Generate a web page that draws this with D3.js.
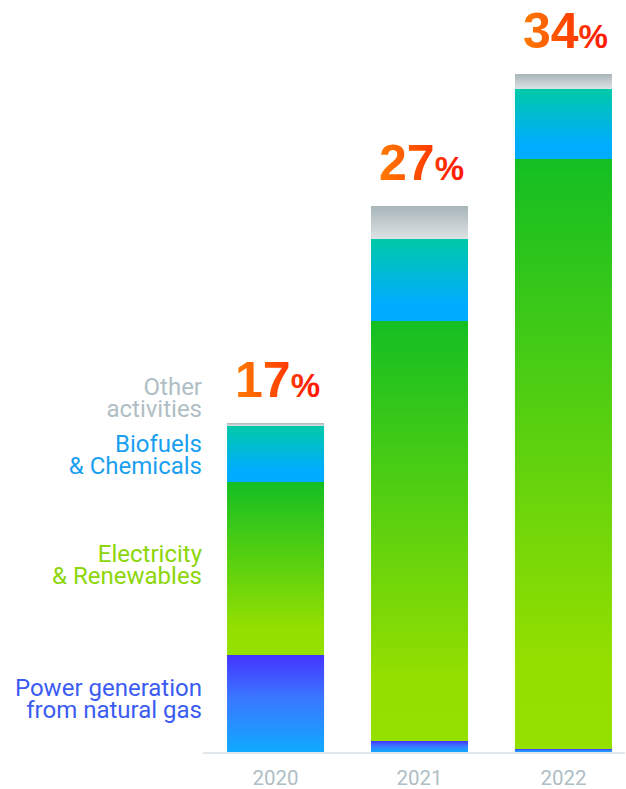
<!DOCTYPE html>
<html>
<head>
<meta charset="utf-8">
<script src="https://cdn.jsdelivr.net/npm/d3@7"></script>
<style>
  body { margin: 0; background: #fff; }
  svg { display: block; }
</style>
</head>
<body>
<svg id="chart"></svg>
<script>
var svg_width = 626;
var svg_height = 789;

// values (share, %)
var years = ['2020', '2021', '2022'];
var power_gas = [4.85, 0.55, 0.15];
var electricity = [8.65, 21.0, 29.5];
var biofuels = [2.8, 4.1, 3.5];
var other = [0.15, 1.65, 0.75];
var totals_label = ['17', '27', '34'];

var series_keys = ['power', 'elec', 'bio', 'other'];
var series_names = [['Power generation', 'from natural gas'], ['Electricity', '& Renewables'], ['Biofuels', '& Chemicals'], ['Other', 'activities']];
var label_colors = ['#3b5cf2', '#8cd60a', '#1a9ff0', '#b0bec5'];
// gradient stops top -> bottom for each segment
var grad_stops = [
  [['0%', '#4433ff'], ['45%', '#3a78ff'], ['100%', '#10aaff']],
  [['0%', '#14bf22'], ['85%', '#94df00'], ['100%', '#94e000']],
  [['0%', '#00c9a8'], ['80%', '#00acff'], ['100%', '#00acff']],
  [['0%', '#a8b5b9'], ['100%', '#dde2e4']]
];

var rows = years.map(function(y, i) {
  return {'year': y, 'power': power_gas[i], 'elec': electricity[i], 'bio': biofuels[i], 'other': other[i], 'label': totals_label[i]};
});

var svg = d3.select('#chart')
  .attr('width', svg_width)
  .attr('height', svg_height);

var defs = svg.append('defs');
series_keys.forEach(function(k, i) {
  var g = defs.append('linearGradient')
    .attr('id', 'grad-' + k)
    .attr('x1', 0).attr('y1', 0).attr('x2', 0).attr('y2', 1);
  grad_stops[i].forEach(function(s) {
    g.append('stop').attr('offset', s[0]).attr('stop-color', s[1]);
  });
});
var tg = defs.append('linearGradient')
  .attr('id', 'grad-label')
  .attr('x1', 0).attr('y1', 0).attr('x2', 1).attr('y2', 0);
tg.append('stop').attr('offset', '0%').attr('stop-color', '#ff7c00');
tg.append('stop').attr('offset', '100%').attr('stop-color', '#ff1500');

var xScale = d3.scaleBand()
  .domain(years)
  .range([203, 636])
  .paddingInner(0.326)
  .paddingOuter(0.167);

var yScale = d3.scaleLinear()
  .domain([0, 34])
  .range([752, 72]);

var stacked = d3.stack().keys(series_keys)(rows);

svg.append('g')
  .selectAll('g')
  .data(stacked)
  .enter()
  .append('g')
  .attr('fill', function(d) { return 'url(#grad-' + d.key + ')'; })
  .selectAll('rect')
  .data(function(d) { return d; })
  .enter()
  .append('rect')
  .attr('x', function(d) { return xScale(d.data.year); })
  .attr('width', xScale.bandwidth())
  .attr('y', function(d) { return yScale(d[1]); })
  .attr('height', function(d) { return yScale(d[0]) - yScale(d[1]); });

// baseline
svg.append('line')
  .attr('x1', xScale.range()[0])
  .attr('x2', svg_width - 1)
  .attr('y1', yScale(0) + 1)
  .attr('y2', yScale(0) + 1)
  .attr('stroke', '#e1e7eb')
  .attr('stroke-width', 2);

// year ticks
var xAxis = svg.append('g')
  .attr('transform', 'translate(0,' + (yScale(0) + 12) + ')')
  .call(d3.axisBottom(xScale).tickSize(0).tickPadding(0));
xAxis.select('.domain').remove();
xAxis.selectAll('text')
  .attr('dy', '0')
  .attr('y', 21)
  .attr('fill', '#b0bec5')
  .style('font-family', 'Roboto, sans-serif')
  .style('font-size', '20.5px');

// total labels
var lbl = svg.append('g')
  .selectAll('text')
  .data(rows)
  .enter()
  .append('text')
  .attr('x', function(d) { return xScale(d.year) + xScale.bandwidth() / 2 + 2; })
  .attr('y', function(d) { return yScale(d.power + d.elec + d.bio + d.other) - 26; })
  .attr('text-anchor', 'middle')
  .attr('fill', 'url(#grad-label)')
  .style('font-family', '"Liberation Sans", Arial, sans-serif')
  .style('font-weight', 'bold');
lbl.append('tspan').style('font-size', '50px').text(function(d) { return d.label; });
lbl.append('tspan').style('font-size', '33px').text('%');

// series labels on the left, beside the 2020 bar
var label_base = [696, 562, 452, 395];
svg.append('g')
  .selectAll('text')
  .data(series_names)
  .enter()
  .append('text')
  .attr('x', 202)
  .attr('y', function(d, i) { return label_base[i]; })
  .attr('text-anchor', 'end')
  .attr('fill', function(d, i) { return label_colors[i]; })
  .style('font-family', 'Roboto, sans-serif')
  .style('font-size', '24px')
  .each(function(d) {
    var t = d3.select(this);
    d.forEach(function(line, j) {
      t.append('tspan').attr('x', 202).attr('dy', j == 0 ? 0 : 22).text(line);
    });
  });
</script>
</body>
</html>
